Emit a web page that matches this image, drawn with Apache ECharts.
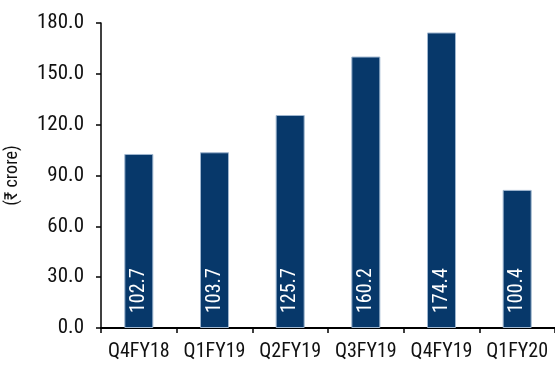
<!DOCTYPE html>
<html>
<head>
<meta charset="utf-8">
<script src="https://cdn.jsdelivr.net/npm/echarts@6/dist/echarts.min.js"></script>
<style>
html,body{margin:0;padding:0;background:#fff;}
#c{width:555px;height:368px;}
</style>
</head>
<body>
<div id="c"></div>
<script>
const categories = ['Q4FY18','Q1FY19','Q2FY19','Q3FY19','Q4FY19','Q1FY20'];
const barValues = [102.7, 103.7, 125.7, 160.2, 174.4, 81.5];
const barLabels = ['102.7','103.7','125.7','160.2','174.4','100.4'];
const yTicks = [0, 30, 60, 90, 120, 150, 180];
const yName = '(₹ crore)';

const FONT = '"Liberation Sans Narrow", "Roboto Condensed", "Arial Narrow", "Liberation Sans", sans-serif';
const chart = echarts.init(document.getElementById('c'), null, {renderer: 'canvas'});
chart.setOption({
  animation: false,
  grid: {left: 101, right: 0, top: 23, bottom: 40, containLabel: false, outerBoundsMode: 'none'},
  xAxis: {
    type: 'category',
    data: categories,
    boundaryGap: true,
    axisLine: {lineStyle: {color: '#000', width: 2}},
    axisTick: {show: true, length: 5, interval: 0, lineStyle: {color: '#000', width: 1.5}},
    axisLabel: {color: '#111', fontFamily: FONT, fontSize: 20, margin: 14, interval: 0}
  },
  yAxis: {
    type: 'value',
    min: yTicks[0],
    max: yTicks[yTicks.length - 1],
    interval: 30,
    name: yName,
    nameLocation: 'middle',
    nameGap: 80,
    nameRotate: 90,
    nameTextStyle: {color: '#111', fontFamily: FONT, fontSize: 18},
    splitLine: {show: false},
    axisLine: {show: true, lineStyle: {color: '#000', width: 1.5}},
    axisTick: {show: true, length: 5, lineStyle: {color: '#000', width: 1.5}},
    axisLabel: {color: '#111', fontFamily: FONT, fontSize: 21, margin: 17,
      formatter: v => v.toFixed(1)}
  },
  series: [{
    type: 'bar',
    data: barValues,
    barWidth: 29,
    itemStyle: {color: '#07386a', borderColor: '#9fb6cf', borderWidth: 1},
    label: {
      show: true,
      position: 'insideBottom',
      rotate: 90,
      align: 'left',
      verticalAlign: 'middle',
      distance: 15,
      color: '#fff',
      fontFamily: FONT,
      fontSize: 20,
      formatter: p => barLabels[p.dataIndex]
    }
  }]
});
</script>
</body>
</html>
